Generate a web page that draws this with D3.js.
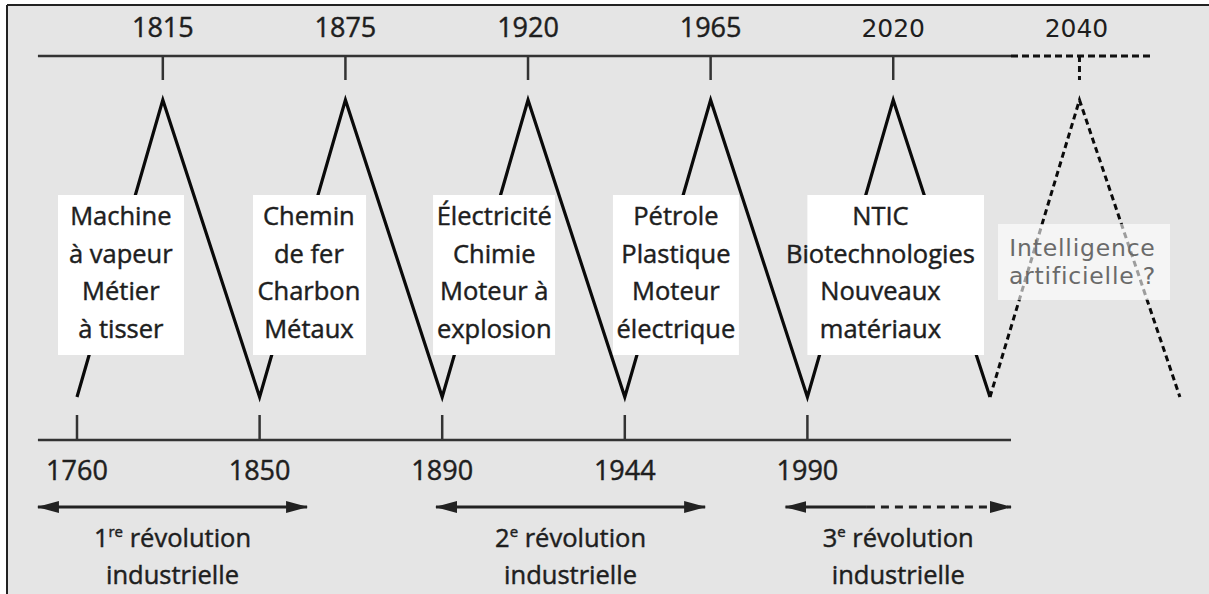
<!DOCTYPE html>
<html><head><meta charset="utf-8">
<script src="https://cdn.jsdelivr.net/npm/d3@7"></script>
<style>
html,body{margin:0;padding:0;background:#fff;}
svg{display:block;}
.ink{stroke:#1e1e1e;stroke-width:0.45px;paint-order:stroke;}
</style></head>
<body>
<svg id="chart" width="1209" height="594"></svg>
<script>
// ---- data ----
const troughYears = ["1760", "1850", "1890", "1944", "1990"];
const peakYears = ["1815", "1875", "1920", "1965", "2020"];
const futurePeakYear = "2040";
const innovations = [
  ["Machine", "à vapeur", "Métier", "à tisser"],
  ["Chemin", "de fer", "Charbon", "Métaux"],
  ["Électricité", "Chimie", "Moteur à", "explosion"],
  ["Pétrole", "Plastique", "Moteur", "électrique"],
  ["NTIC", "Biotechnologies", "Nouveaux", "matériaux"]
];
const futureInnovation = ["Intelligence", "artificielle ?"];
const revolutionNumbers = ["1", "2", "3"];
const revolutionSups = ["re", "e", "e"];
const revolutionWords = ["révolution", "industrielle"];

// ---- layout (in wave units) ----
const PEAK = 0.47, FUTURE_PEAK = 0.49, FUTURE_END = 1.04;
const boxSpans = [[-0.104, 0.586], [-0.036, 0.583], [-0.05, 0.618], [-0.065, 0.625], [0.0, 0.967]];
const textCenters = [0.24, 0.27, 0.285, 0.28, 0.40];
const arrowSpans = [[-0.214, 1.26], [1.966, 3.44], [3.88, 5.115]];
const arrowDashFrom = 4.326;

const svg = d3.select("#chart");
const x = d3.scaleLinear().domain([0, 5]).range([77, 990]);
const y = d3.scaleLinear().domain([0, 1]).range([397, 100]);
const FONT = "'Open Sans', 'Noto Sans', sans-serif";
const INK = "#1e1e1e";

// background
svg.append("rect").attr("x", 7).attr("y", 5).attr("width", 1202).attr("height", 589).attr("fill", "#e5e5e5");
svg.append("line").attr("x1", 7).attr("x2", 1209).attr("y1", 5).attr("y2", 5).attr("stroke", "#222").attr("stroke-width", 2);
svg.append("line").attr("x1", 7).attr("x2", 7).attr("y1", 5).attr("y2", 594).attr("stroke", "#222").attr("stroke-width", 2);

const axisL = x(-0.214), axisR = x(5.115);
const topY = 56, botY = 440;

// top axis
svg.append("line").attr("x1", axisL).attr("x2", axisR).attr("y1", topY).attr("y2", topY)
  .attr("stroke", "#333").attr("stroke-width", 2.5);
svg.append("line").attr("x1", axisR).attr("x2", x(5.89)).attr("y1", topY).attr("y2", topY)
  .attr("stroke", "#111").attr("stroke-width", 3).attr("stroke-dasharray", "7,4");
svg.selectAll(".ptick").data(peakYears).join("line")
  .attr("x1", (d, i) => x(i + PEAK)).attr("x2", (d, i) => x(i + PEAK))
  .attr("y1", topY).attr("y2", 80).attr("stroke", "#333").attr("stroke-width", 2.5);
svg.append("line").attr("x1", x(5 + FUTURE_PEAK)).attr("x2", x(5 + FUTURE_PEAK))
  .attr("y1", topY).attr("y2", 80).attr("stroke", "#111").attr("stroke-width", 3).attr("stroke-dasharray", "6,4");
svg.selectAll(".plab").data(peakYears).join("text")
  .attr("class", (d, i) => i === 4 ? null : "ink")
  .attr("x", (d, i) => x(i + PEAK)).attr("y", 37).attr("text-anchor", "middle")
  .attr("font-family", (d, i) => i === 4 ? "'DejaVu Sans', sans-serif" : FONT)
  .attr("font-size", (d, i) => i === 4 ? 25 : 27).attr("fill", INK).text(d => d);
svg.append("text").attr("x", x(5 + FUTURE_PEAK) - 3).attr("y", 37).attr("text-anchor", "middle")
  .attr("font-family", "'DejaVu Sans', sans-serif").attr("font-size", 25).attr("fill", INK).text(futurePeakYear);

// bottom axis
svg.append("line").attr("x1", axisL).attr("x2", axisR).attr("y1", botY).attr("y2", botY)
  .attr("stroke", "#333").attr("stroke-width", 2.5);
svg.selectAll(".ttick").data(troughYears).join("line")
  .attr("x1", (d, i) => x(i)).attr("x2", (d, i) => x(i))
  .attr("y1", 415).attr("y2", botY).attr("stroke", "#333").attr("stroke-width", 2.5);
svg.selectAll(".tlab").data(troughYears).join("text").attr("class", "ink")
  .attr("x", (d, i) => x(i)).attr("y", 480).attr("text-anchor", "middle")
  .attr("font-family", FONT).attr("font-size", 27).attr("fill", INK).text(d => d);

// zigzag
const line = d3.line().x(d => x(d[0])).y(d => y(d[1]));
const solidPts = [];
peakYears.forEach((p, i) => { solidPts.push([i, 0]); solidPts.push([i + PEAK, 1]); });
solidPts.push([5, 0]);
svg.append("path").attr("d", line(solidPts)).attr("fill", "none").attr("stroke", "#0a0a0a")
  .attr("stroke-width", 3.2).attr("stroke-linejoin", "miter");
svg.append("path").attr("d", line([[5, 0], [5 + FUTURE_PEAK, 1], [5 + FUTURE_END, 0]]))
  .attr("fill", "none").attr("stroke", "#0a0a0a").attr("stroke-width", 3).attr("stroke-dasharray", "6,4");

// innovation boxes
const lineY = [225, 263, 300, 338];
innovations.forEach((lines, i) => {
  svg.append("rect").attr("x", x(i + boxSpans[i][0])).attr("y", 195)
    .attr("width", x(i + boxSpans[i][1]) - x(i + boxSpans[i][0])).attr("height", 160).attr("fill", "#fff");
  svg.selectAll(null).data(lines).join("text").attr("class", "ink")
    .attr("x", x(i + textCenters[i])).attr("y", (d, j) => lineY[j]).attr("text-anchor", "middle")
    .attr("font-family", FONT).attr("font-size", 25.5).attr("fill", INK).text(d => d);
});

// future box
svg.append("rect").attr("x", 998).attr("y", 224).attr("width", 172).attr("height", 76)
  .attr("fill", "#fff").attr("fill-opacity", 0.6);
svg.selectAll(null).data(futureInnovation).join("text")
  .attr("x", x(5 + FUTURE_PEAK) + 3).attr("y", (d, j) => 256 + j * 27.5).attr("text-anchor", "middle")
  .attr("font-family", "'DejaVu Sans', sans-serif").attr("font-size", 23.5).attr("letter-spacing", 0.8)
  .attr("fill", "#6a6a6a").text(d => d);

// revolution arrows
const defs = svg.append("defs");
defs.append("marker").attr("id", "ah").attr("viewBox", "0 0 22 12").attr("refX", 21).attr("refY", 6)
  .attr("markerWidth", 22).attr("markerHeight", 12).attr("markerUnits", "userSpaceOnUse").attr("orient", "auto-start-reverse")
  .append("path").attr("d", "M0,0 L22,6 L0,12 Z").attr("fill", "#222");
const arrowY = 507;
arrowSpans.forEach((s, i) => {
  const x0 = x(s[0]), x1 = x(s[1]);
  if (i < 2) {
    svg.append("line").attr("x1", x0).attr("x2", x1).attr("y1", arrowY).attr("y2", arrowY)
      .attr("stroke", "#222").attr("stroke-width", 3)
      .attr("marker-start", "url(#ah)").attr("marker-end", "url(#ah)");
  } else {
    const xm = x(arrowDashFrom);
    svg.append("line").attr("x1", x0).attr("x2", xm).attr("y1", arrowY).attr("y2", arrowY)
      .attr("stroke", "#222").attr("stroke-width", 3).attr("marker-start", "url(#ah)");
    svg.append("line").attr("x1", xm).attr("x2", x1).attr("y1", arrowY).attr("y2", arrowY)
      .attr("stroke", "#222").attr("stroke-width", 3).attr("stroke-dasharray", "8,6").attr("marker-end", "url(#ah)");
  }
  const cx = (x0 + x1) / 2;
  const t = svg.append("text").attr("class", "ink").attr("x", cx).attr("y", 547).attr("text-anchor", "middle")
    .attr("font-family", FONT).attr("font-size", 25.5).attr("fill", INK);
  t.append("tspan").text(revolutionNumbers[i]);
  t.append("tspan").attr("font-size", 15).attr("dy", -10).text(revolutionSups[i]);
  t.append("tspan").attr("dy", 10).text(" " + revolutionWords[0]);
  svg.append("text").attr("class", "ink").attr("x", cx).attr("y", 584).attr("text-anchor", "middle")
    .attr("font-family", FONT).attr("font-size", 25.5).attr("fill", INK).text(revolutionWords[1]);
});
</script>
</body></html>
